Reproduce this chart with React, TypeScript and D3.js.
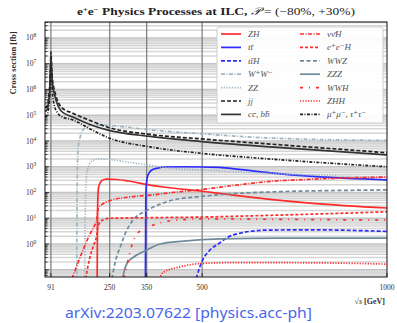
import React from 'react';
import * as d3 from 'd3';

const W = 397;
const H = 323;
const plot = { left: 45, right: 387, top: 22, bottom: 277 };

// sqrt(s) in GeV, cross sections in fb
const jjX = [75, 80, 85, 88, 90, 91.2, 92.5, 95, 100, 108, 120, 150, 200, 243, 359, 500, 684, 1000];
const jjY = [2.0e5, 2.2e5, 5.0e5, 1.6e6, 1.0e7, 2.8e7, 1.0e7, 2.5e6, 1.0e6, 4.0e5, 2.0e5, 1.2e5, 6.0e4, 3.5e4, 1.8e4, 1.2e4, 7.6e3, 3.5e3];
const ccbbY = [1.4e5, 1.6e5, 3.5e5, 1.1e6, 7.1e6, 2.0e7, 7.1e6, 1.8e6, 7.1e5, 2.8e5, 1.4e5, 8.5e4, 4.2e4, 2.7e4, 1.5e4, 9.5e3, 5.9e3, 2.9e3];
const mumuY = [8.9e4, 1.0e5, 2.0e5, 6.3e5, 4.0e6, 1.0e7, 3.2e6, 7.9e5, 2.5e5, 1.3e5, 8.9e4, 6.6e4, 2.8e4, 1.4e4, 5.9e3, 3.3e3, 2.0e3, 1.0e3];

const wwX = [160.8, 161.5, 163, 165, 170, 178, 190, 205, 250, 359, 500, 684, 1000];
const wwY = [0.032, 32, 1600, 5600, 1.4e4, 2.7e4, 3.7e4, 4.2e4, 4.0e4, 2.7e4, 1.9e4, 1.3e4, 1.05e4];

const zzX = [182.3, 184, 186, 190, 200, 215, 230, 250, 300, 350, 400, 500, 700, 1000];
const zzY = [0.032, 32, 250, 790, 1600, 1950, 2000, 1900, 1500, 1200, 930, 740, 540, 380];

const ttX = [346.5, 347.5, 349, 352, 356, 365, 380, 400, 450, 546, 600, 684, 800, 1000];
const ttY = [0.032, 32, 200, 400, 560, 760, 890, 980, 1000, 950, 790, 580, 420, 310];

const zhX = [216, 217, 218, 220, 225, 235, 242, 270, 300, 359, 400, 500, 600, 684, 800, 1000];
const zhY = [0.032, 10, 63, 160, 250, 320, 330, 320, 280, 195, 160, 112, 74, 54, 38, 25];

const nnhX = [148, 160, 178, 195, 210, 215, 217, 220, 230, 250, 300, 359, 420, 500, 600, 684, 800, 1000];
const nnhY = [0.045, 0.13, 0.59, 2.2, 5.6, 8.5, 18, 26, 35, 48, 66, 79, 100, 132, 200, 270, 330, 400];

const eehX = [185, 195, 205, 215, 217, 220, 230, 250, 350, 500, 700, 1000];
const eehY = [0.045, 0.25, 0.79, 2.2, 4.0, 5.6, 8.3, 10, 10.5, 11.2, 13.2, 17.8];

const wwzX = [256, 265, 280, 295, 313, 350, 386, 413, 500, 684, 1000];
const wwzY = [0.045, 0.2, 0.89, 3.2, 8.5, 20, 35, 48, 71, 105, 126];

const zzzX = [285, 290, 297, 320, 351, 386, 450, 550, 700, 1000];
const zzzY = [0.045, 0.1, 0.18, 0.35, 0.59, 1.0, 1.3, 1.6, 1.7, 1.7];

const wwhX = [290, 300, 310, 324, 350, 394, 450, 500, 700, 1000];
const wwhY = [0.045, 0.25, 0.89, 2.5, 4.2, 7.1, 8.9, 9.5, 9.1, 8.5];

const tthX = [484, 492, 502, 520, 548, 570, 602, 675, 800, 1000];
const tthY = [0.045, 0.11, 0.25, 0.56, 1.12, 1.86, 2.63, 3.47, 3.55, 3.1];

const zhhX = [384, 395, 440, 502, 600, 800, 1000];
const zhhY = [0.045, 0.079, 0.13, 0.178, 0.19, 0.186, 0.166];

const xTicks = [91, 250, 350, 500, 1000];
const yExponents = [0, 1, 2, 3, 4, 5, 6, 7, 8];

const RED = '#ff2a2a';
const BLUE = '#2b2bff';
const SLATE = '#6f8a9a';
const PALE = '#9fb6c2';
const DARK = '#222';

type Series = { label: string; xs: number[]; ys: number[]; color: string; dash?: string };

const col1: Series[] = [
  { label: 'ZH', xs: zhX, ys: zhY, color: RED },
  { label: 'tt̄', xs: ttX, ys: ttY, color: BLUE },
  { label: 'tt̄H', xs: tthX, ys: tthY, color: BLUE, dash: '4,2' },
  { label: 'W⁺W⁻', xs: wwX, ys: wwY, color: PALE, dash: '4,1.5,1,1.5' },
  { label: 'ZZ', xs: zzX, ys: zzY, color: PALE, dash: '1.2,1.5' },
  { label: 'jj', xs: jjX, ys: jjY, color: DARK, dash: '4,2' },
  { label: 'cc̄, bb̄', xs: jjX, ys: ccbbY, color: '#333' },
];
const col2: Series[] = [
  { label: 'νν̄H', xs: nnhX, ys: nnhY, color: RED, dash: '4,1.5,1,1.5' },
  { label: 'e⁺e⁻H', xs: eehX, ys: eehY, color: RED, dash: '3,2' },
  { label: 'WWZ', xs: wwzX, ys: wwzY, color: SLATE, dash: '4,2.5' },
  { label: 'ZZZ', xs: zzzX, ys: zzzY, color: SLATE },
  { label: 'WWH', xs: wwhX, ys: wwhY, color: RED, dash: '3,6,1,6' },
  { label: 'ZHH', xs: zhhX, ys: zhhY, color: RED, dash: '1.2,1.5' },
  { label: 'μ⁺μ⁻, τ⁺τ⁻', xs: jjX, ys: mumuY, color: DARK, dash: '3,1.5,1,1.5' },
];

export default function App() {
  const x = d3.scaleLinear().domain([75, 1000]).range([plot.left, plot.right]);
  const y = d3.scaleLog().domain([0.0525, 4.17e8]).range([plot.bottom, plot.top]);

  const line = d3
    .line<[number, number]>()
    .x((d) => x(d[0]))
    .y((d) => y(d[1]))
    .curve(d3.curveMonotoneX);

  // grid at k*10^n
  const gridVals: { v: number; major: boolean }[] = [];
  for (let n = -2; n <= 8; n++) {
    for (let k = 1; k <= 9; k++) {
      const v = k * Math.pow(10, n);
      if (v >= 0.0525 && v <= 4.17e8) gridVals.push({ v, major: k === 1 });
    }
  }

  const all = [...col1, ...col2];
  const serif = 'Liberation Serif, DejaVu Serif, serif';
  const lg = { x: 217, y: 27, w: 166, h: 96, row: 13.4, first: 34 };

  return (
    <svg width={W} height={H} style={{ position: 'absolute', left: 0, top: 0, background: '#fff' }}>
      <defs>
        <clipPath id="plotClip">
          <rect x={plot.left} y={plot.top} width={plot.right - plot.left} height={plot.bottom - plot.top} />
        </clipPath>
      </defs>

      <text x={77} y={15} textLength={278} lengthAdjust="spacingAndGlyphs" fontFamily={serif} fontWeight="bold" fontSize={11} fill="#222">
        e<tspan dy={-3.5} fontSize={7}>+</tspan><tspan dy={3.5}>e</tspan><tspan dy={-3.5} fontSize={7}>−</tspan>
        <tspan dy={3.5}> Physics Processes at ILC, </tspan>
        <tspan fontWeight="normal" fontStyle="italic">𝒫</tspan>
        <tspan fontWeight="normal"> = (−80%, +30%)</tspan>
      </text>

      {/* grid */}
      <g>
        {gridVals.map((g, i) => (
          <line key={i} x1={plot.left} x2={plot.right} y1={y(g.v)} y2={y(g.v)} stroke={g.major ? '#c4c4c4' : '#d6d6d6'} strokeWidth={1.5} />
        ))}
        {xTicks.slice(0, 4).map((t) => (
          <line key={t} x1={x(t)} x2={x(t)} y1={plot.top} y2={plot.bottom} stroke="#7a7a7a" strokeWidth={1.2} />
        ))}
      </g>

      {/* curves */}
      <g clipPath="url(#plotClip)">
        {all.map((s) => (
          <path
            key={s.label}
            d={line(s.xs.map((v, i) => [v, s.ys[i]] as [number, number])) || ''}
            fill="none"
            stroke={s.color}
            strokeWidth={1.7}
            strokeDasharray={s.dash}
          />
        ))}
      </g>

      {/* frame and ticks */}
      <rect x={plot.left} y={plot.top} width={plot.right - plot.left} height={plot.bottom - plot.top} fill="none" stroke="#111" strokeWidth={1} />
      {gridVals.map((g, i) => (
        <line key={'t' + i} x1={plot.left} x2={plot.left + (g.major ? 4 : 2.5)} y1={y(g.v)} y2={y(g.v)} stroke="#111" strokeWidth={0.8} />
      ))}
      {yExponents.map((e) => (
        <text key={e} x={26} y={y(Math.pow(10, e)) + 2.5} fontFamily={serif} fontSize={7.5} fill="#3a2c24">
          10<tspan dy={-3} fontSize={5.5}>{e}</tspan>
        </text>
      ))}
      {xTicks.map((t) => (
        <g key={t}>
          <line x1={x(t)} x2={x(t)} y1={plot.bottom} y2={plot.bottom - 4} stroke="#111" strokeWidth={0.8} />
          <text x={x(t)} y={290} textAnchor="middle" fontFamily={serif} fontSize={7.5} fill="#3a2c24">{t}</text>
        </g>
      ))}

      <text transform="translate(16,63) rotate(-90)" textAnchor="middle" fontFamily={serif} fontWeight="bold" fontSize={8.5} fill="#3a2c24">
        Cross section [fb]
      </text>
      <text x={385} y={304} textAnchor="end" fontFamily={serif} fontSize={8} fill="#3a2c24">
        <tspan fontStyle="italic">√s</tspan><tspan fontWeight="bold"> [GeV]</tspan>
      </text>

      {/* legend */}
      <rect x={lg.x} y={lg.y} width={lg.w} height={lg.h} rx={2} fill="#fff" fillOpacity={0.92} stroke="#cfcfcf" strokeWidth={1} />
      {[col1, col2].map((col, c) =>
        col.map((s, i) => {
          const ly = lg.first + i * lg.row;
          const lx = c === 0 ? 221 : 300;
          return (
            <g key={s.label}>
              <line x1={lx} x2={lx + 20} y1={ly} y2={ly} stroke={s.color} strokeWidth={1.7} strokeDasharray={s.dash} />
              <text x={lx + 27} y={ly + 3} fontFamily={serif} fontStyle="italic" fontSize={9} fill="#555">{s.label}</text>
            </g>
          );
        })
      )}

      <text x={65} y={318} textLength={247} lengthAdjust="spacingAndGlyphs" fontFamily="Noto Sans, sans-serif" fontSize={14} fill="#4a66ee">
        arXiv:2203.07622 [physics.acc-ph]
      </text>
    </svg>
  );
}
